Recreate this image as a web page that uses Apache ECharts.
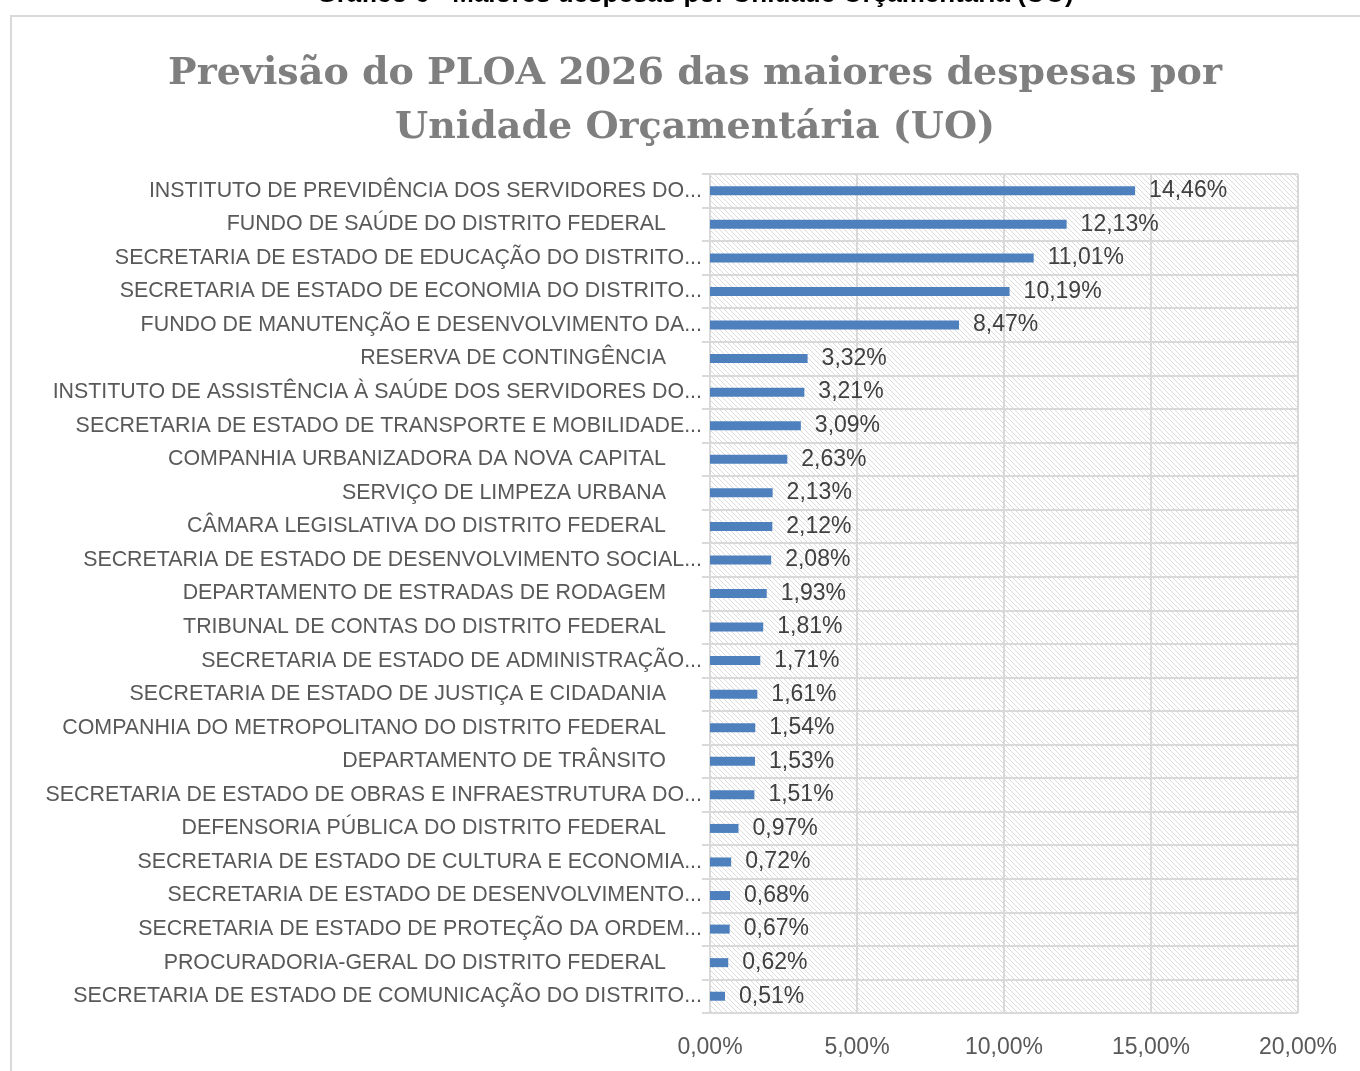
<!DOCTYPE html>
<html lang="pt-BR">
<head>
    <meta charset="UTF-8">
    <title>PLOA 2026 - maiores despesas por UO</title>
    <style>
        html, body { margin: 0; padding: 0; background: #fff; }
    </style>
</head>
<body>
    <div id="chart" style="width:1360px;height:1071px"></div>
    <script src="https://cdn.jsdelivr.net/npm/echarts@6/dist/echarts.min.js"></script>
    <script type="text/javascript">
       // categorias (texto como aparece no gráfico, já truncado)
       var categorias = [
           "INSTITUTO DE PREVIDÊNCIA DOS SERVIDORES DO...",
           "FUNDO DE SAÚDE DO DISTRITO FEDERAL",
           "SECRETARIA DE ESTADO DE EDUCAÇÃO DO DISTRITO...",
           "SECRETARIA DE ESTADO DE ECONOMIA DO DISTRITO...",
           "FUNDO DE MANUTENÇÃO E DESENVOLVIMENTO DA...",
           "RESERVA DE CONTINGÊNCIA",
           "INSTITUTO DE ASSISTÊNCIA À SAÚDE DOS SERVIDORES DO...",
           "SECRETARIA DE ESTADO DE TRANSPORTE E MOBILIDADE...",
           "COMPANHIA URBANIZADORA DA NOVA CAPITAL",
           "SERVIÇO DE LIMPEZA URBANA",
           "CÂMARA LEGISLATIVA DO DISTRITO FEDERAL",
           "SECRETARIA DE ESTADO DE DESENVOLVIMENTO SOCIAL...",
           "DEPARTAMENTO DE ESTRADAS DE RODAGEM",
           "TRIBUNAL DE CONTAS DO DISTRITO FEDERAL",
           "SECRETARIA DE ESTADO DE ADMINISTRAÇÃO...",
           "SECRETARIA DE ESTADO DE JUSTIÇA E CIDADANIA",
           "COMPANHIA DO METROPOLITANO DO DISTRITO FEDERAL",
           "DEPARTAMENTO DE TRÂNSITO",
           "SECRETARIA DE ESTADO DE OBRAS E INFRAESTRUTURA DO...",
           "DEFENSORIA PÚBLICA DO DISTRITO FEDERAL",
           "SECRETARIA DE ESTADO DE CULTURA E ECONOMIA...",
           "SECRETARIA DE ESTADO DE DESENVOLVIMENTO...",
           "SECRETARIA DE ESTADO DE PROTEÇÃO DA ORDEM...",
           "PROCURADORIA-GERAL DO DISTRITO FEDERAL",
           "SECRETARIA DE ESTADO DE COMUNICAÇÃO DO DISTRITO..."
       ];
       // participação (%)
       var valores = [14.46, 12.13, 11.01, 10.19, 8.47, 3.32, 3.21, 3.09, 2.63, 2.13,
                      2.12, 2.08, 1.93, 1.81, 1.71, 1.61, 1.54, 1.53, 1.51, 0.97,
                      0.72, 0.68, 0.67, 0.62, 0.51];
       var eixoMin = 0, eixoMax = 20, eixoPasso = 5;

       function pct(v) {
           return v.toFixed(2).replace('.', ',') + '%';
       }

       // hachura do fundo da área de plotagem
       function hachura() {
           var s = 5;
           var c = document.createElement('canvas');
           c.width = s; c.height = s;
           var ctx = c.getContext('2d');
           ctx.fillStyle = '#ffffff';
           ctx.fillRect(0, 0, s, s);
           ctx.strokeStyle = '#dcdcdc';
           ctx.lineWidth = 1;
           ctx.beginPath();
           ctx.moveTo(-1, -1); ctx.lineTo(s + 1, s + 1);
           ctx.moveTo(-1, s - 1); ctx.lineTo(1, s + 1);
           ctx.moveTo(s - 1, -1); ctx.lineTo(s + 1, 1);
           ctx.stroke();
           return c;
       }

       var myChart = echarts.init(document.getElementById('chart'));
       var fonteTxt = 'Liberation Sans, Arial, sans-serif';

       var option = {
           backgroundColor: '#fff',
           animation: false,
           title: [{
               text: 'Gráfico 6 - Maiores despesas por Unidade Orçamentária (UO)',
               left: 690,
               textAlign: 'center',
               top: -23,
               textStyle: { fontFamily: fonteTxt, fontSize: 26, fontWeight: 'bold', color: '#000' }
           }, {
               text: 'Previsão do PLOA 2026 das maiores despesas por\nUnidade Orçamentária (UO)',
               left: 690,
               textAlign: 'center',
               top: 42,
               textStyle: {
                   fontFamily: 'DejaVu Serif, Liberation Serif, serif',
                   fontSize: 38, fontWeight: 'bold', color: '#7f7f7f', lineHeight: 54
               }
           }],
           graphic: [{
               type: 'rect',
               shape: { x: 11, y: 16, width: 1360, height: 1100 },
               style: { fill: null, stroke: '#d9d9d9', lineWidth: 2 },
               silent: true
           }],
           grid: {
               left: 710, right: 62, top: 174, bottom: 58,
               show: true,
               borderWidth: 0,
               backgroundColor: { image: hachura(), repeat: 'repeat' }
           },
           xAxis: {
               type: 'value',
               min: eixoMin, max: eixoMax, interval: eixoPasso,
               axisLine: { show: false },
               axisTick: { show: false },
               splitLine: { show: true, lineStyle: { color: '#d9d9d9', width: 2 } },
               axisLabel: {
                   margin: 23,
                   fontFamily: fonteTxt, fontSize: 23, color: '#595959',
                   formatter: function (v) { return pct(v); }
               }
           },
           yAxis: {
               type: 'category',
               inverse: true,
               data: categorias,
               axisLine: { show: true, lineStyle: { color: '#d9d9d9', width: 2 } },
               axisTick: { show: true, length: 8, lineStyle: { color: '#d9d9d9', width: 2 } },
               splitLine: { show: true, lineStyle: { color: '#d9d9d9', width: 2 } },
               axisLabel: {
                   margin: 8,
                   fontFamily: fonteTxt, fontSize: 21.4, color: '#595959',
                   formatter: function (v) {
                       return v.slice(-3) === '...' ? v : '{c|' + v + '}';
                   },
                   rich: {
                       c: { fontFamily: fonteTxt, fontSize: 21.4, color: '#595959', padding: [0, 36, 0, 0] }
                   }
               }
           },
           series: [{
               type: 'bar',
               data: valores,
               barWidth: 9,
               itemStyle: { color: '#4e80bd' },
               label: {
                   show: true,
                   position: 'right',
                   distance: 14,
                   fontFamily: fonteTxt, fontSize: 23, color: '#404040',
                   formatter: function (p) { return pct(p.value); }
               }
           }]
       };
       myChart.setOption(option);
    </script>
</body>
</html>
